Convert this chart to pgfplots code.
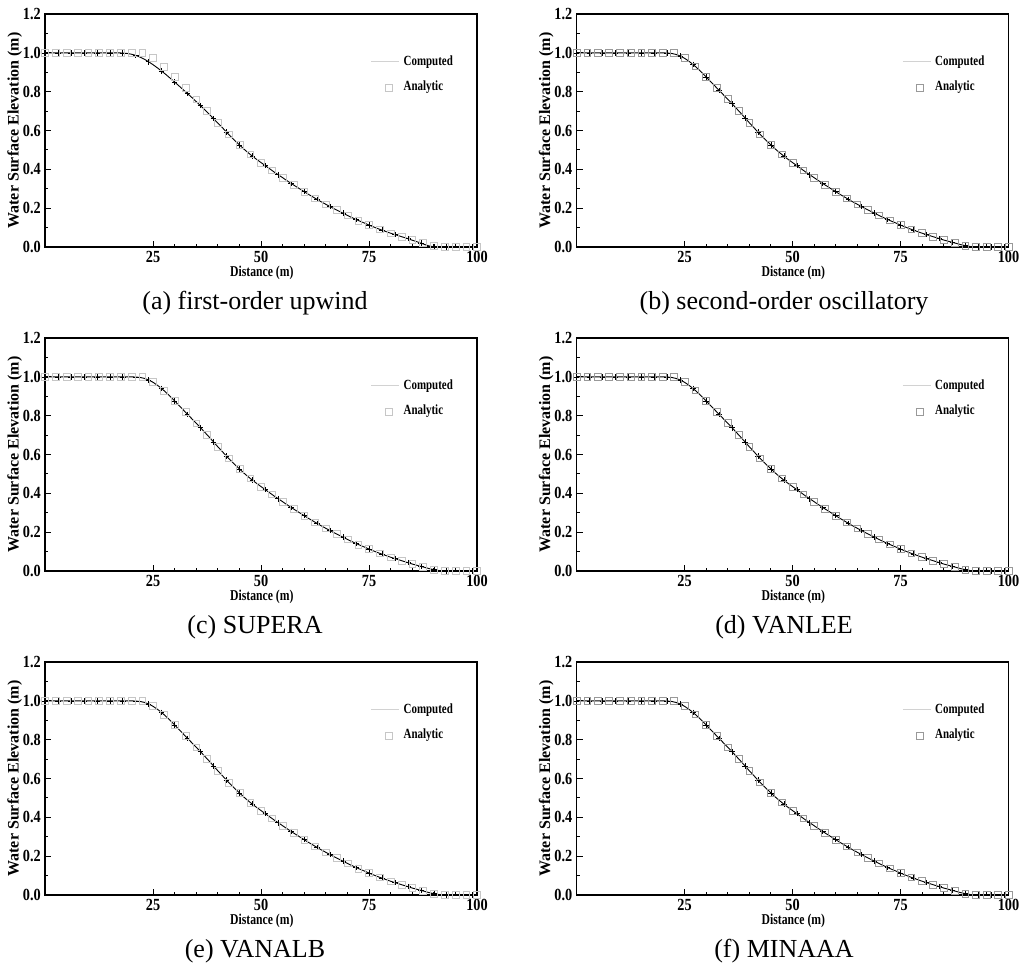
\documentclass[border=0pt]{standalone}
\usepackage{fontspec}
\setmainfont{Liberation Serif}
\newfontfamily\tickfont[FakeStretch=0.84]{Liberation Serif}
\usepackage{graphicx}
\usepackage{pgfplots}
\usepackage{pgfplotstable}
\pgfplotsset{compat=1.18}

% computed: ca = first-order upwind, cb = other schemes
\pgfplotstableread{
x ca cb
0 1.000 1.000
1 1.000 1.000
2 1.000 1.000
3 1.000 1.000
4 1.000 1.000
5 1.000 1.000
6 1.000 1.000
7 1.000 1.000
8 1.000 1.000
9 1.000 1.000
10 1.000 1.000
11 1.000 1.000
12 1.000 1.000
13 1.000 1.000
14 1.000 1.000
15 1.000 1.000
16 1.000 1.000
17 1.000 1.000
18 0.999 1.000
19 0.997 1.000
20 0.993 1.000
21 0.987 0.999
22 0.978 0.997
23 0.967 0.992
24 0.954 0.984
25 0.939 0.972
26 0.923 0.957
27 0.906 0.940
28 0.888 0.920
29 0.869 0.899
30 0.850 0.876
31 0.830 0.853
32 0.810 0.830
33 0.790 0.807
34 0.770 0.784
35 0.749 0.761
36 0.728 0.738
37 0.706 0.714
38 0.684 0.690
39 0.661 0.665
40 0.638 0.640
41 0.616 0.616
42 0.592 0.592
43 0.569 0.569
44 0.547 0.547
45 0.526 0.526
46 0.505 0.505
47 0.486 0.486
48 0.468 0.468
49 0.451 0.451
50 0.435 0.435
51 0.419 0.419
52 0.403 0.403
53 0.387 0.387
54 0.372 0.372
55 0.357 0.357
56 0.342 0.342
57 0.327 0.327
58 0.313 0.313
59 0.299 0.299
60 0.285 0.285
61 0.271 0.271
62 0.258 0.258
63 0.245 0.245
64 0.232 0.232
65 0.220 0.220
66 0.208 0.208
67 0.196 0.196
68 0.185 0.185
69 0.174 0.174
70 0.163 0.163
71 0.152 0.152
72 0.142 0.142
73 0.132 0.132
74 0.123 0.123
75 0.113 0.113
76 0.104 0.104
77 0.095 0.095
78 0.087 0.087
79 0.079 0.079
80 0.071 0.071
81 0.064 0.064
82 0.057 0.057
83 0.050 0.050
84 0.043 0.043
85 0.035 0.036
86 0.028 0.030
87 0.020 0.024
88 0.012 0.018
89 0.005 0.012
90 0.001 0.007
91 0.000 0.003
92 0.000 0.000
93 0.000 0.000
94 0.000 0.000
95 0.000 0.000
96 0.000 0.000
97 0.000 0.000
98 0.000 0.000
99 0.000 0.000
100 0.000 0.000
}\comptab

\pgfplotstableread{
x y
0 1.000
2.5 1.000
5 1.000
7.5 1.000
10 1.000
12.5 1.000
15 1.000
17.5 1.000
20 1.000
22.5 1.000
25 0.975
27.5 0.930
30 0.876
32.5 0.819
35 0.761
37.5 0.702
40 0.640
42.5 0.580
45 0.526
47.5 0.477
50 0.435
52.5 0.395
55 0.357
57.5 0.320
60 0.285
62.5 0.251
65 0.220
67.5 0.190
70 0.163
72.5 0.137
75 0.113
77.5 0.091
80 0.071
82.5 0.053
85 0.036
87.5 0.021
90 0.007
92.5 0.000
95 0.000
97.5 0.000
100 0.000
}\anatab

\newcommand\cond[1]{\scalebox{0.78}[1]{#1}}

\pgfplotsset{
  panel/.style={
    scale only axis, width=216pt, height=116.5pt,
    xmin=0, xmax=100, ymin=0, ymax=1.2,
    xtick={25,50,75,100}, xticklabels={25,50,75,100},
    ytick={0,0.2,0.4,0.6,0.8,1.0,1.2},
    yticklabels={0.0,0.2,0.4,0.6,0.8,1.0,1.2},
    minor x tick num=4, minor y tick num=1,
    tick pos=left, tick align=inside,
    major tick length=3pt, minor tick length=1.5pt,
    axis line style={line width=0.75pt},
    every tick/.style={black, line width=0.5pt},
    ticklabel style={font=\tickfont\bfseries\fontsize{8.5}{9}\selectfont},
    yticklabel style={xshift=1.4pt},
    xticklabel style={yshift=1.2pt},
    xlabel={\cond{Distance (m)}},
    xlabel style={font=\bfseries\fontsize{7.5}{8}\selectfont, at={(axis description cs:0.502,-0.11)}, anchor=center},
    ylabel={Water Surface Elevation (m)},
    ylabel style={font=\bfseries\fontsize{8}{9}\selectfont, at={(axis description cs:-0.07,0.5)}, anchor=center},
    legend style={draw=none, fill=none, at={(axis cs:74,1.03)}, anchor=north west,
      font=\bfseries\fontsize{7}{8}\selectfont, row sep=2.5pt},
    legend cell align=left,
  },
  comp/.style={black, line width=0.45pt, mark=+, mark size=1.4pt, mark repeat=3,
    mark options={line width=0.3pt},
    legend image code/.code={\draw[gray!35, line width=0.3pt] (0pt,0pt) -- (14pt,0pt);}},
  anaL/.style={gray!45, line width=0.3pt, only marks, mark=square, mark size=1.7pt},
  anaD/.style={gray!80, line width=0.35pt, only marks, mark=square, mark size=1.7pt},
}

\begin{document}
\begin{tikzpicture}[x=1pt,y=1pt]
\path[use as bounding box] (0,0) rectangle (510,-484.5);

% (a)
\begin{axis}[panel, at={(22.5pt,-123.5pt)}, anchor=south west]
\addplot[comp] table[x=x,y=ca]{\comptab};
\addlegendentry{\cond{Computed}}
\addplot[anaL] table[x=x,y=y]{\anatab};
\addlegendentry{\cond{Analytic}}
\end{axis}
% (b)
\begin{axis}[panel, at={(288.25pt,-123.5pt)}, anchor=south west]
\addplot[comp] table[x=x,y=cb]{\comptab};
\addlegendentry{\cond{Computed}}
\addplot[anaD] table[x=x,y=y]{\anatab};
\addlegendentry{\cond{Analytic}}
\end{axis}
% (c)
\begin{axis}[panel, at={(22.5pt,-285.5pt)}, anchor=south west]
\addplot[comp] table[x=x,y=cb]{\comptab};
\addlegendentry{\cond{Computed}}
\addplot[anaL] table[x=x,y=y]{\anatab};
\addlegendentry{\cond{Analytic}}
\end{axis}
% (d)
\begin{axis}[panel, at={(288.25pt,-285.5pt)}, anchor=south west]
\addplot[comp] table[x=x,y=cb]{\comptab};
\addlegendentry{\cond{Computed}}
\addplot[anaD] table[x=x,y=y]{\anatab};
\addlegendentry{\cond{Analytic}}
\end{axis}
% (e)
\begin{axis}[panel, at={(22.5pt,-447.5pt)}, anchor=south west]
\addplot[comp] table[x=x,y=cb]{\comptab};
\addlegendentry{\cond{Computed}}
\addplot[anaL] table[x=x,y=y]{\anatab};
\addlegendentry{\cond{Analytic}}
\end{axis}
% (f)
\begin{axis}[panel, at={(288.25pt,-447.5pt)}, anchor=south west]
\addplot[comp] table[x=x,y=cb]{\comptab};
\addlegendentry{\cond{Computed}}
\addplot[anaD] table[x=x,y=y]{\anatab};
\addlegendentry{\cond{Analytic}}
\end{axis}

\begin{scope}[every node/.style={anchor=base, font=\fontsize{13}{15}\selectfont, inner sep=0pt}]
\node at (127.5,-154.5) {(a) first-order upwind};
\node at (392,-154.5) {(b) second-order oscillatory};
\node at (127.5,-316.5) {(c) SUPERA};
\node at (392,-316.5) {(d) VANLEE};
\node at (127.5,-478.5) {(e) VANALB};
\node at (392,-478.5) {(f) MINAAA};
\end{scope}
\end{tikzpicture}
\end{document}
